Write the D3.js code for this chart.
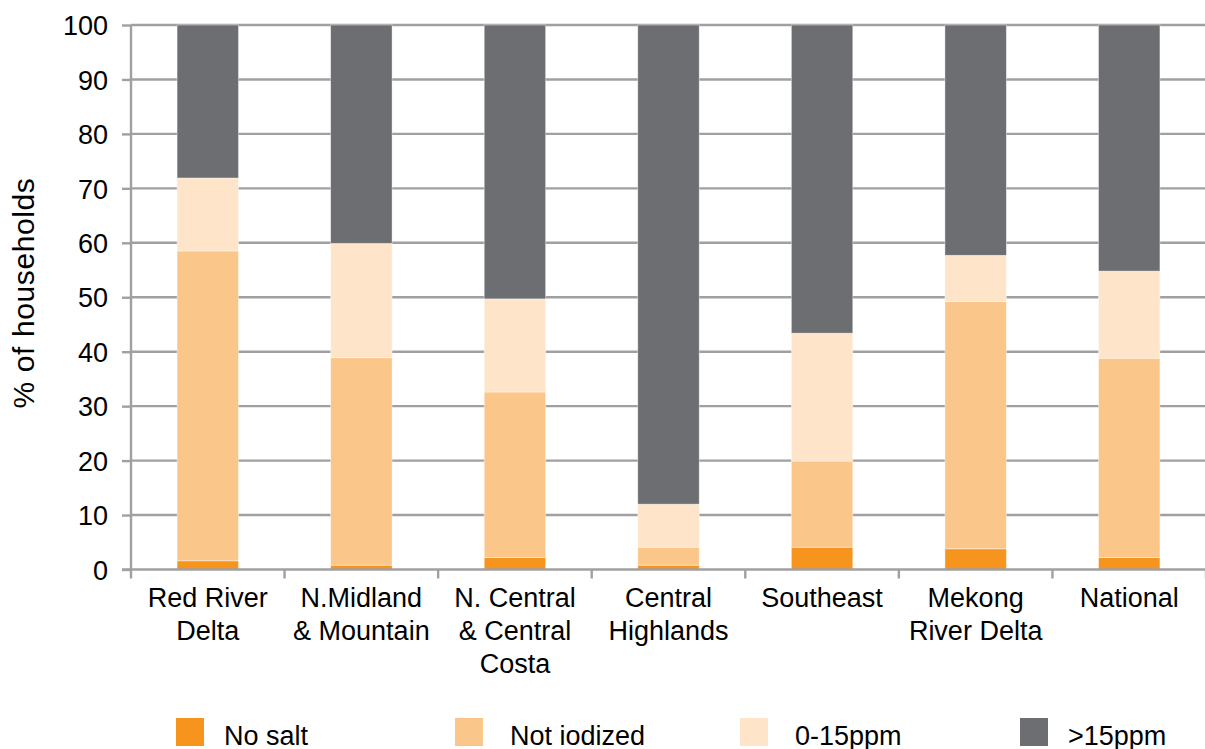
<!DOCTYPE html>
<html>
<head>
<meta charset="utf-8">
<script src="https://cdn.jsdelivr.net/npm/d3@7"></script>
<style>
  html, body { margin: 0; padding: 0; background: #fff; }
  svg { display: block; }
  text { font-family: "Liberation Sans", Arial, sans-serif; fill: #000; }
</style>
</head>
<body>
<svg id="chart" width="1205" height="749"></svg>
<script>
const categories = [
  ["Red River", "Delta"],
  ["N.Midland", "& Mountain"],
  ["N. Central", "& Central", "Costa"],
  ["Central", "Highlands"],
  ["Southeast"],
  ["Mekong", "River Delta"],
  ["National"]
];
const seriesNames = ["No salt", "Not iodized", "0-15ppm", ">15ppm"];
const noSalt     = [1.6, 0.8, 2.2, 0.8, 4.1, 3.8, 2.2];
const notIodized = [56.9, 38.1, 30.4, 3.3, 15.8, 45.4, 36.6];
const low015     = [13.4, 21.0, 17.1, 7.9, 23.5, 8.5, 16.0];
const above15    = [28.1, 40.1, 50.3, 88.0, 56.6, 42.3, 45.2];
const colors = ["#F7941D", "#FBC68A", "#FEE4C9", "#6D6E71"];
const yTicks = [0, 10, 20, 30, 40, 50, 60, 70, 80, 90, 100];
const yTitle = "% of households";

const svg = d3.select("#chart");
const mLeft = 131, mRight = 1206, mTop = 25, mBottom = 569.5;

const keys = categories.map(c => c.join(" "));
const rows = keys.map((k, i) => ({
  key: k,
  "No salt": noSalt[i],
  "Not iodized": notIodized[i],
  "0-15ppm": low015[i],
  ">15ppm": above15[i]
}));
const stacked = d3.stack().keys(seriesNames)(rows);

const x = d3.scaleBand().domain(keys).range([mLeft, mRight]).paddingInner(0.6).paddingOuter(0.3);
const xb = d3.scaleBand().domain(keys).range([mLeft, mRight]);
const y = d3.scaleLinear().domain([0, 100]).range([mBottom, mTop]);

const gridColor = "#A0A0A0";

// gridlines
svg.append("g")
  .selectAll("line")
  .data(yTicks.filter(t => t > 0))
  .join("line")
  .attr("x1", mLeft).attr("x2", mRight)
  .attr("y1", d => y(d)).attr("y2", d => y(d))
  .attr("stroke", gridColor).attr("stroke-width", 2.4);

// bars
svg.append("g")
  .selectAll("g")
  .data(stacked)
  .join("g")
  .attr("fill", (d, i) => colors[i])
  .selectAll("rect")
  .data(d => d.map(v => ({ v, key: v.data.key })))
  .join("rect")
  .attr("x", d => x(d.key))
  .attr("width", x.bandwidth())
  .attr("y", d => y(d.v[1]))
  .attr("height", d => y(d.v[0]) - y(d.v[1]))
  .attr("stroke", "#ffffff")
  .attr("stroke-opacity", 0.5)
  .attr("stroke-width", 0.8);

// y axis
const yAxis = d3.axisLeft(y).tickValues(yTicks).tickSize(9).tickPadding(14);
const gy = svg.append("g").attr("transform", `translate(${mLeft},0)`).call(yAxis);
gy.select(".domain").attr("stroke", gridColor).attr("stroke-width", 2.4).attr("d", `M0,${mTop}V${mBottom}`);
gy.selectAll(".tick line").attr("stroke", gridColor).attr("stroke-width", 2.4);
gy.selectAll(".tick text")
  .style("font-family", '"Liberation Sans", Arial, sans-serif')
  .style("font-size", "27px").attr("fill", "#000").attr("dy", "0.36em");

// x axis
svg.append("line")
  .attr("x1", mLeft - 9).attr("x2", mRight)
  .attr("y1", mBottom).attr("y2", mBottom)
  .attr("stroke", gridColor).attr("stroke-width", 2.4);
const bounds = keys.map(k => xb(k)).concat([mRight]);
svg.append("g").selectAll("line")
  .data(bounds)
  .join("line")
  .attr("x1", d => d).attr("x2", d => d)
  .attr("y1", mBottom).attr("y2", mBottom + 9)
  .attr("stroke", gridColor).attr("stroke-width", 2.4);

// category labels
const catG = svg.append("g").selectAll("text")
  .data(categories)
  .join("text")
  .attr("text-anchor", "middle")
  .style("font-size", "27px")
  .attr("transform", (d, i) => `translate(${xb(keys[i]) + xb.bandwidth() / 2},607)`);
catG.selectAll("tspan")
  .data(d => d)
  .join("tspan")
  .attr("x", 0)
  .attr("y", (d, i) => i * 33)
  .text(d => d);

// y title
svg.append("text")
  .attr("transform", "translate(34,293) rotate(-90)")
  .attr("text-anchor", "middle")
  .style("font-size", "30px")
  .style("letter-spacing", "0.6px")
  .text(yTitle);

// legend
const legendX = [176, 455, 740, 1020];
const legendTextOffset = [48, 55, 55, 48];
const lg = svg.append("g").selectAll("g")
  .data(seriesNames)
  .join("g")
  .attr("transform", (d, i) => `translate(${legendX[i]},718)`);
lg.append("rect").attr("width", 28).attr("height", 28).attr("fill", (d, i) => colors[i]);
lg.append("text")
  .attr("x", (d, i) => legendTextOffset[i])
  .attr("y", 27)
  .style("font-size", "27px")
  .text(d => d);
</script>
</body>
</html>
